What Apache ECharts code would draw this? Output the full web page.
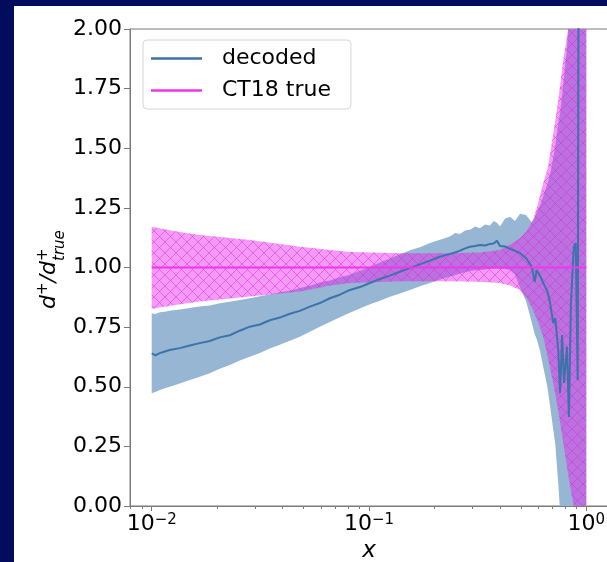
<!DOCTYPE html>
<html><head><meta charset="utf-8">
<script src="https://cdn.jsdelivr.net/npm/echarts@6/dist/echarts.min.js"></script>
<style>
html,body{margin:0;padding:0;background:#030c5c;overflow:hidden;}
#wrap{position:relative;width:607px;height:562px;background:#030c5c;}
#panel{position:absolute;left:14px;top:6px;width:593px;height:556px;background:#ffffff;}
#c{position:absolute;left:0;top:0;width:607px;height:562px;}
</style>
</head><body><div id="wrap"><div id="panel"></div><div id="c"></div></div>
<script>
// ---- decoded (ratio to true) : x, central value, band ----
const decodedX = [0.01000,0.01040,0.01089,0.01150,0.01210,0.01346,0.01497,0.01664,0.01850,0.02057,
  0.02287,0.02543,0.02828,0.03144,0.03496,0.03887,0.04322,0.04806,0.05343,0.05941,
  0.06606,0.07345,0.08167,0.09081,0.1010,0.1123,0.1248,0.1388,0.1543,0.1716,
  0.1908,0.2121,0.2359,0.2490,0.2623,0.2770,0.2916,0.3080,0.3242,0.3420,
  0.3605,0.3750,0.3880,0.4009,0.4230,0.4457,0.4700,0.4956,0.5280,0.5610,
  0.5790,0.5910,0.6127,0.6340,0.6620,0.6813,0.7050,0.7200,0.7430,0.7575,
  0.7740,0.7900,0.8150,0.8320,0.8500,0.8760,0.8940,0.9130,0.9230,0.9640,1.0000];
const decodedCenter = [0.640,0.632,0.641,0.648,0.654,0.662,0.673,0.683,0.692,0.707,
  0.716,0.735,0.752,0.761,0.779,0.790,0.806,0.818,0.836,0.851,
  0.871,0.886,0.906,0.918,0.935,0.952,0.966,0.982,0.998,1.013,
  1.029,1.045,1.057,1.063,1.071,1.080,1.087,1.090,1.094,1.092,
  1.099,1.101,1.112,1.090,1.088,1.078,1.070,1.060,1.040,1.003,
  0.940,0.990,0.965,0.935,0.900,0.851,0.767,0.788,0.654,0.474,
  0.717,0.516,0.667,0.373,0.851,1.086,1.103,0.528,2.600,3.000,3.200];
const decodedLower = [0.473,0.478,0.486,0.494,0.500,0.514,0.528,0.542,0.557,0.575,
  0.591,0.610,0.626,0.642,0.660,0.676,0.693,0.710,0.731,0.752,
  0.772,0.791,0.810,0.828,0.846,0.861,0.877,0.891,0.906,0.921,
  0.935,0.950,0.962,0.967,0.975,0.980,0.985,0.988,0.990,0.992,
  0.995,0.996,0.997,0.995,0.994,0.990,0.970,0.915,0.860,0.770,
  0.720,0.700,0.650,0.583,0.500,0.420,0.319,0.260,0.096,-0.020,
  -0.100,-0.200,-0.250,-0.300,-0.330,-0.360,-0.400,-0.420,-0.450,-0.480,-0.500];
const decodedUpper = [0.808,0.805,0.812,0.814,0.819,0.824,0.830,0.836,0.841,0.850,
  0.856,0.864,0.871,0.879,0.887,0.896,0.903,0.914,0.924,0.937,
  0.946,0.959,0.970,0.986,1.002,1.021,1.038,1.056,1.072,1.085,
  1.103,1.116,1.130,1.145,1.140,1.155,1.158,1.172,1.165,1.180,
  1.176,1.195,1.188,1.172,1.205,1.213,1.195,1.225,1.220,1.190,
  1.210,1.230,1.260,1.300,1.350,1.390,1.460,1.510,1.600,1.650,
  1.720,1.800,1.920,2.050,2.200,2.350,2.500,2.650,2.800,3.000,3.300];

// ---- CT18 true : band and central ratio ----
const ct18X = [0.0100,0.0128,0.0166,0.0283,0.0481,0.0661,0.0817,0.1388,0.2359,0.3242,
  0.4009,0.4460,0.4960,0.5340,0.5700,0.6010,0.6340,0.6670,0.7050,0.7430,
  0.7840,0.8260,0.8710,0.9230,1.0000];
const ct18Lower = [0.827,0.843,0.857,0.878,0.899,0.925,0.935,0.942,0.942,0.940,
  0.935,0.925,0.906,0.870,0.820,0.770,0.710,0.620,0.515,0.400,
  0.264,0.130,0.010,-0.150,-0.400];
const ct18Upper = [1.171,1.152,1.136,1.115,1.087,1.073,1.065,1.060,1.060,1.063,
  1.073,1.095,1.124,1.155,1.200,1.270,1.354,1.420,1.560,1.700,
  1.870,2.000,2.200,2.500,3.000];
const ct18TrueX = [0.01, 1.0];
const ct18TrueY = [1.0, 1.0];

// ---- axes ----
const yMin = 0, yMax = 2, yStep = 0.25;
const xMajorTicks = [0.01, 0.1, 1];
const xMajorExp = ['−2', '−1', '0'];
const xMinorTicks = [0.008,0.009,0.02,0.03,0.04,0.05,0.06,0.07,0.08,0.09,0.2,0.3,0.4,0.5,0.6,0.7,0.8,0.9];
const xMin = Math.pow(10, -2.1), xMax = Math.pow(10, 0.1);

const FONT = 'DejaVu Sans';
const AX = '#7a7a7a';

function makeHatch(){
  const s = 11;
  const c = document.createElement('canvas'); c.width = s; c.height = s;
  const g = c.getContext('2d');
  g.strokeStyle = 'rgba(215,40,228,0.5)'; g.lineWidth = 1;
  g.beginPath();
  g.moveTo(0,0); g.lineTo(s,s);
  g.moveTo(0,s); g.lineTo(s,0);
  g.stroke();
  return c;
}
const hatch = makeHatch();

function band(name, xs, lo, up, fills, z){
  return {
    type:'custom', name, silent:true, z, clip:true,
    data:[[xs[0], lo[0]]],
    renderItem(params, api){
      const pts=[];
      for(let i=0;i<xs.length;i++) pts.push(api.coord([xs[i], up[i]]));
      for(let i=xs.length-1;i>=0;i--) pts.push(api.coord([xs[i], lo[i]]));
      const cs = params.coordSys;
      return {type:'group',
        clipPath:{type:'rect', shape:{x:cs.x, y:cs.y, width:cs.width, height:cs.height}},
        children: fills.map(f => ({type:'polygon', shape:{points:pts}, style:{fill:f}}))};
    }
  };
}

const chart = echarts.init(document.getElementById('c'), null, {renderer:'canvas'});
chart.setOption({
  backgroundColor:'transparent',
  animation:false,
  grid:{left:130, top:29, width:478, height:477, show:true, borderColor:AX, borderWidth:1,
    backgroundColor:'transparent', containLabel:false, outerBoundsMode:'none'},
  legend:{
    data:['decoded','CT18 true'], orient:'vertical', left:143, top:40,
    padding:[6,20,6,8], itemWidth:51, itemHeight:2.5, itemGap:7, icon:'rect',
    textStyle:{fontSize:22, fontFamily:FONT, color:'#000', lineHeight:25, padding:[0,0,0,15]},
    borderColor:'#d6d6d6', borderWidth:1, borderRadius:4, backgroundColor:'rgba(255,255,255,0.8)'
  },
  xAxis:[{
    type:'log', logBase:10, min:xMin, max:xMax, position:'bottom',
    axisLine:{show:true, lineStyle:{color:AX, width:1}},
    axisTick:{show:true, customValues:xMajorTicks, length:5, lineStyle:{color:AX}},
    axisLabel:{customValues:xMajorTicks, margin:7,
      formatter:(v)=>{ const i = xMajorTicks.findIndex(t=>Math.abs(Math.log10(t)-Math.log10(v))<1e-6); return '{b|10}{s|'+(i>=0?xMajorExp[i]:'')+'}'; },
      rich:{b:{fontSize:22, fontFamily:FONT, color:'#000'}, s:{fontSize:15, fontFamily:FONT, color:'#000', verticalAlign:'top'}}},
    splitLine:{show:false},
    name:'x', nameLocation:'middle', nameGap:31,
    nameTextStyle:{fontSize:23, fontStyle:'italic', fontFamily:FONT, color:'#000'}
  },{
    type:'log', logBase:10, min:xMin, max:xMax, position:'bottom',
    axisLine:{show:false},
    axisTick:{show:true, customValues:xMinorTicks, length:3, lineStyle:{color:AX}},
    axisLabel:{show:false}, splitLine:{show:false}
  }],
  yAxis:{
    type:'value', min:yMin, max:yMax, interval:yStep,
    axisLine:{show:true, lineStyle:{color:AX, width:1}},
    axisTick:{show:true, length:6, lineStyle:{color:AX}},
    axisLabel:{fontSize:22, fontFamily:FONT, color:'#000', margin:8, formatter:(v)=>v.toFixed(2)},
    splitLine:{show:false}
  },
  graphic:[{
    type:'group', position:[49, 309], rotation:Math.PI/2,
    children:[
      {type:'text', x:0, y:0, style:{text:'d', font:'italic 22px "DejaVu Sans"', fill:'#000', verticalAlign:'middle', align:'left'}},
      {type:'text', x:14, y:-6, style:{text:'+', font:'15px "DejaVu Sans"', fill:'#000', verticalAlign:'middle', align:'left'}},
      {type:'text', x:26.5, y:0, style:{text:'/d', font:'italic 22px "DejaVu Sans"', fill:'#000', verticalAlign:'middle', align:'left'}},
      {type:'text', x:48, y:-6, style:{text:'+', font:'15px "DejaVu Sans"', fill:'#000', verticalAlign:'middle', align:'left'}},
      {type:'text', x:48, y:11, style:{text:'true', font:'italic 15px "DejaVu Sans"', fill:'#000', verticalAlign:'middle', align:'left'}}
    ]
  }],
  series:[
    band('decoded band', decodedX, decodedLower, decodedUpper, ['#96b6d3'], 1),
    band('CT18 band', ct18X, ct18Lower, ct18Upper, ['rgba(232,30,236,0.45)', {image:hatch, repeat:'repeat'}], 2),
    {type:'line', name:'decoded', data:decodedX.map((x,i)=>[x, decodedCenter[i]]), showSymbol:false, symbol:'none',
      color:'#3b73ab', lineStyle:{color:'#3b73ab', width:2}, z:3, clip:true, xAxisIndex:0},
    {type:'line', name:'CT18 true', data:ct18TrueX.map((x,i)=>[x, ct18TrueY[i]]), showSymbol:false, symbol:'none',
      color:'#ee36ee', lineStyle:{color:'#ee36ee', width:2}, z:4, clip:true, xAxisIndex:0}
  ]
});
</script>
</body></html>
